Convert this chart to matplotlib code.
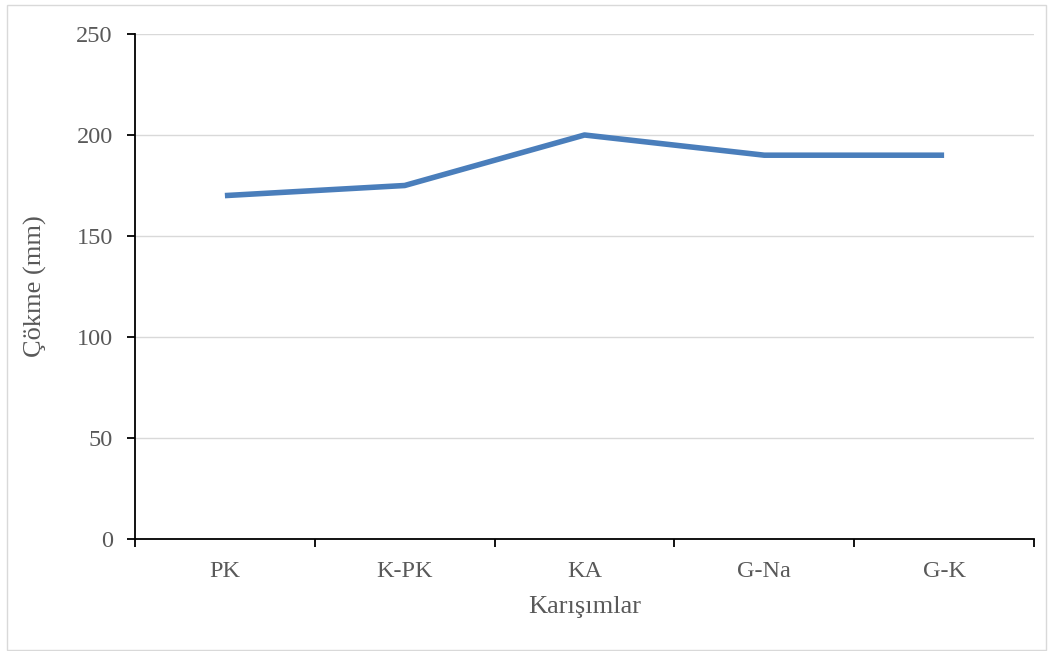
import matplotlib
matplotlib.use("Agg")
import matplotlib.pyplot as plt
from matplotlib.patches import Rectangle

categories = ["PK", "K-PK", "KA", "G-Na", "G-K"]
values = [170, 175, 200, 190, 190]
yticks = [0, 50, 100, 150, 200, 250]

plt.rcParams['font.family'] = ['Liberation Serif', 'DejaVu Serif']
grey = '#595959'

fig = plt.figure(figsize=(10.53, 6.51), dpi=100)
ax = fig.add_axes([135/1053, 1-539/651, (1034-135)/1053, (539-34)/651])

x = list(range(len(categories)))
ax.plot(x, values, color='#4a7ebb', linewidth=4.0, solid_capstyle='butt', zorder=3)

ax.set_xlim(-0.5, len(categories)-0.5)
ax.set_ylim(0, 250)
ax.set_yticks(yticks)
ax.set_yticklabels([str(t) for t in yticks], fontsize=17.5, color=grey)
ax.set_xticks(x)
ax.set_xticklabels(categories, fontsize=17.5, color=grey)
ax.tick_params(axis='x', which='major', length=0, pad=16)
ax.set_xticks([i-0.5 for i in range(len(categories)+1)], minor=True)
ax.tick_params(axis='x', which='minor', length=6, width=1.3, color='black', direction='out')
ax.tick_params(axis='y', length=6, width=1.3, color='black', direction='out', pad=10)

ax.grid(axis='y', color='#d9d9d9', linewidth=1.0, zorder=0)
ax.set_axisbelow(True)
for s in ['top', 'right']:
    ax.spines[s].set_visible(False)
for s in ['left', 'bottom']:
    ax.spines[s].set_linewidth(1.3)
    ax.spines[s].set_color('black')

ax.set_xlabel("Karışımlar", fontsize=19, color=grey, labelpad=10)
ax.set_ylabel("Çökme (mm)", fontsize=19, color=grey, labelpad=21)

fig.patches.append(Rectangle((7/1053, 1-650/651), (1046-7)/1053, (650-5)/651,
                             transform=fig.transFigure, fill=False,
                             edgecolor='#d9d9d9', linewidth=1.0))

fig.savefig("out.png", dpi=100)
